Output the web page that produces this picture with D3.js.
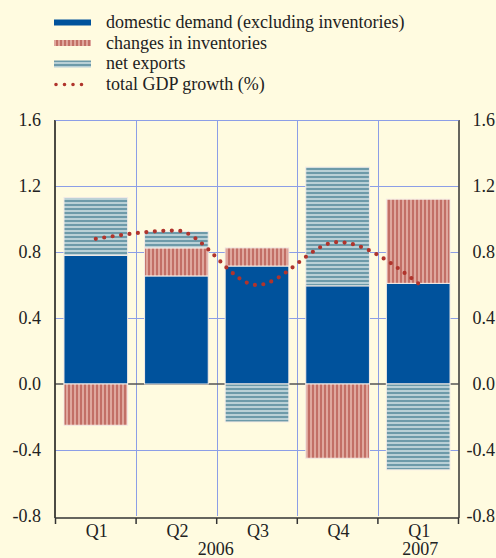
<!DOCTYPE html>
<html><head><meta charset="utf-8">
<script src="https://cdn.jsdelivr.net/npm/d3@7/dist/d3.min.js"></script>
<style>
html,body{margin:0;padding:0;background:#fffbe0;}
svg{display:block;}
text{font-family:"Liberation Serif","Times New Roman",serif;fill:#222;}
</style></head>
<body>
<script>
const categories = ["Q1","Q2","Q3","Q4","Q1 2007"];
const quarterLabels = ["Q1","Q2","Q3","Q4","Q1"];
const yearLabels = [{label:"2006", from:0, to:3}, {label:"2007", from:4, to:4}];
const domestic = [0.78, 0.655, 0.715, 0.595, 0.61];
const inventories = [-0.25, 0.17, 0.11, -0.45, 0.51];
const netExports = [0.35, 0.10, -0.23, 0.72, -0.52];
const gdp = [0.88, 0.93, 0.60, 0.86, 0.61];
const yTicks = [-0.8, -0.4, 0.0, 0.4, 0.8, 1.2, 1.6];
const legendLabels = ["domestic demand (excluding inventories)","changes in inventories","net exports","total GDP growth (%)"];

const W = 496, H = 558;
const svg = d3.select("body").append("svg").attr("width", W).attr("height", H);
svg.append("rect").attr("width", W).attr("height", H).attr("fill", "#fffbe0");

const legendFS = 18, tickFS = 18, catFS = 18;

const defs = svg.append("defs");
const pInv = defs.append("pattern").attr("id","inv").attr("patternUnits","userSpaceOnUse").attr("width",4).attr("height",4);
pInv.append("rect").attr("width",4).attr("height",4).attr("fill","#dfa79d");
pInv.append("rect").attr("width",2).attr("height",4).attr("fill","#c26f66");
const pNet = defs.append("pattern").attr("id","net").attr("patternUnits","userSpaceOnUse").attr("width",4).attr("height",4);
pNet.append("rect").attr("width",4).attr("height",4).attr("fill","#b9d0d6");
pNet.append("rect").attr("width",4).attr("height",2).attr("fill","#6d9aa9");

const left = 55.5, right = 458.5;
const x = d3.scaleBand().domain(categories).range([left, right]).paddingInner(0.21).paddingOuter(0.105);
const xb = d3.scaleBand().domain(categories).range([left, right]);
const y = d3.scaleLinear().domain([-0.8, 1.6]).range([516, 120]);
const fmt = d => d3.format(".1f")(d).replace("\u2212", "-");

const gridColor = "#8c9ee6";
svg.append("g").selectAll("line").data(yTicks.filter(d => d !== 0 && d !== -0.8)).join("line")
  .attr("x1", left).attr("x2", right).attr("y1", d => Math.round(y(d))+0.5).attr("y2", d => Math.round(y(d))+0.5)
  .attr("stroke", gridColor).attr("stroke-width", 1);
svg.append("g").selectAll("line").data(categories.slice(1)).join("line")
  .attr("x1", d => Math.round(xb(d))+0.5).attr("x2", d => Math.round(xb(d))+0.5)
  .attr("y1", y(1.6)).attr("y2", y(-0.8))
  .attr("stroke", gridColor).attr("stroke-width", 1);
svg.append("line").attr("x1", left).attr("x2", right).attr("y1", y(0)).attr("y2", y(0))
  .attr("stroke", "#555").attr("stroke-width", 1.5);

const series = [
  {vals: domestic, fill: "#00529c"},
  {vals: inventories, fill: "url(#inv)"},
  {vals: netExports, fill: "url(#net)"}
];
const rects = [];
categories.forEach((c, i) => {
  let pos = 0, neg = 0;
  series.forEach(s => {
    const v = s.vals[i];
    let y0, y1;
    if (v >= 0) { y0 = pos; y1 = pos + v; pos = y1; }
    else { y0 = neg; y1 = neg + v; neg = y1; }
    rects.push({c, y0, y1, fill: s.fill});
  });
});
svg.append("g").selectAll("rect").data(rects).join("rect")
  .attr("x", d => x(d.c)).attr("width", x.bandwidth())
  .attr("y", d => y(Math.max(d.y0, d.y1))).attr("height", d => Math.abs(y(d.y0) - y(d.y1)))
  .attr("fill", d => d.fill).attr("stroke", "#f4ece6").attr("stroke-width", 1);

svg.append("line").attr("x1", left-0.5).attr("x2", left-0.5).attr("y1", y(1.6)).attr("y2", y(-0.8)+2)
  .attr("stroke", "#111").attr("stroke-width", 1.5);
svg.append("line").attr("x1", right+0.5).attr("x2", right+0.5).attr("y1", y(1.6)).attr("y2", y(-0.8)+2)
  .attr("stroke", "#333").attr("stroke-width", 1.5);
svg.append("line").attr("x1", left).attr("x2", right).attr("y1", y(1.6)+0.5).attr("y2", y(1.6)+0.5)
  .attr("stroke", gridColor).attr("stroke-width", 1);

const xAxisY = y(-0.8) + 2;
svg.append("line").attr("x1", left-0.5).attr("x2", right+0.5).attr("y1", xAxisY).attr("y2", xAxisY)
  .attr("stroke", "#333").attr("stroke-width", 1.5);
const bounds = categories.map(c => xb(c)).concat([right]);
svg.append("g").selectAll("line").data(bounds).join("line")
  .attr("x1", d => d).attr("x2", d => d).attr("y1", xAxisY).attr("y2", xAxisY + 6)
  .attr("stroke", "#333").attr("stroke-width", 1.5);
svg.append("g").selectAll("text").data(categories).join("text")
  .attr("x", d => xb(d) + xb.bandwidth()/2 + 1).attr("y", 537)
  .attr("text-anchor", "middle").attr("font-size", catFS).text((d, i) => quarterLabels[i]);
svg.append("g").selectAll("text").data(yearLabels).join("text")
  .attr("x", d => d.from === d.to ? xb(categories[d.from]) + xb.bandwidth()/2 + 2 : (xb(categories[d.from]) + xb(categories[d.to]) + xb.bandwidth())/2 - 1)
  .attr("y", 555).attr("text-anchor", "middle").attr("font-size", catFS).text(d => d.label);

svg.append("g").selectAll("text").data(yTicks).join("text")
  .attr("x", 41).attr("y", d => y(d)).attr("dy", "0.35em").attr("text-anchor", "end")
  .attr("font-size", tickFS).text(fmt);
svg.append("g").selectAll("text").data(yTicks).join("text")
  .attr("x", 495).attr("y", d => y(d)).attr("dy", "0.35em").attr("text-anchor", "end")
  .attr("font-size", tickFS).text(fmt);

const line = d3.line().x((d, i) => xb(categories[i]) + xb.bandwidth()/2).y(d => y(d)).curve(d3.curveMonotoneX);
svg.append("path").attr("d", line(gdp)).attr("fill", "none")
  .attr("stroke", "#b0342c").attr("stroke-width", 4.2).attr("stroke-linecap", "round")
  .attr("stroke-dasharray", "0 8.5");

const lg = svg.append("g");
const rowY = [22.5, 43, 63.5, 84.5];
lg.append("rect").attr("x", 54).attr("y", rowY[0]-3).attr("width", 37).attr("height", 6).attr("fill", "#00529c");
lg.append("rect").attr("x", 54).attr("y", rowY[1]-3).attr("width", 37).attr("height", 6).attr("fill", "url(#inv)");
lg.append("rect").attr("x", 54).attr("y", rowY[2]-3).attr("width", 37).attr("height", 7).attr("fill", "url(#net)");
lg.append("line").attr("x1", 56).attr("x2", 90).attr("y1", rowY[3]).attr("y2", rowY[3])
  .attr("stroke", "#b0342c").attr("stroke-width", 3.6).attr("stroke-linecap", "round").attr("stroke-dasharray", "0 8.5");
lg.selectAll("text").data(legendLabels).join("text")
  .attr("x", 106).attr("y", (d, i) => rowY[i]).attr("dy", "0.33em").attr("font-size", legendFS).text(d => d);
</script>
</body></html>
